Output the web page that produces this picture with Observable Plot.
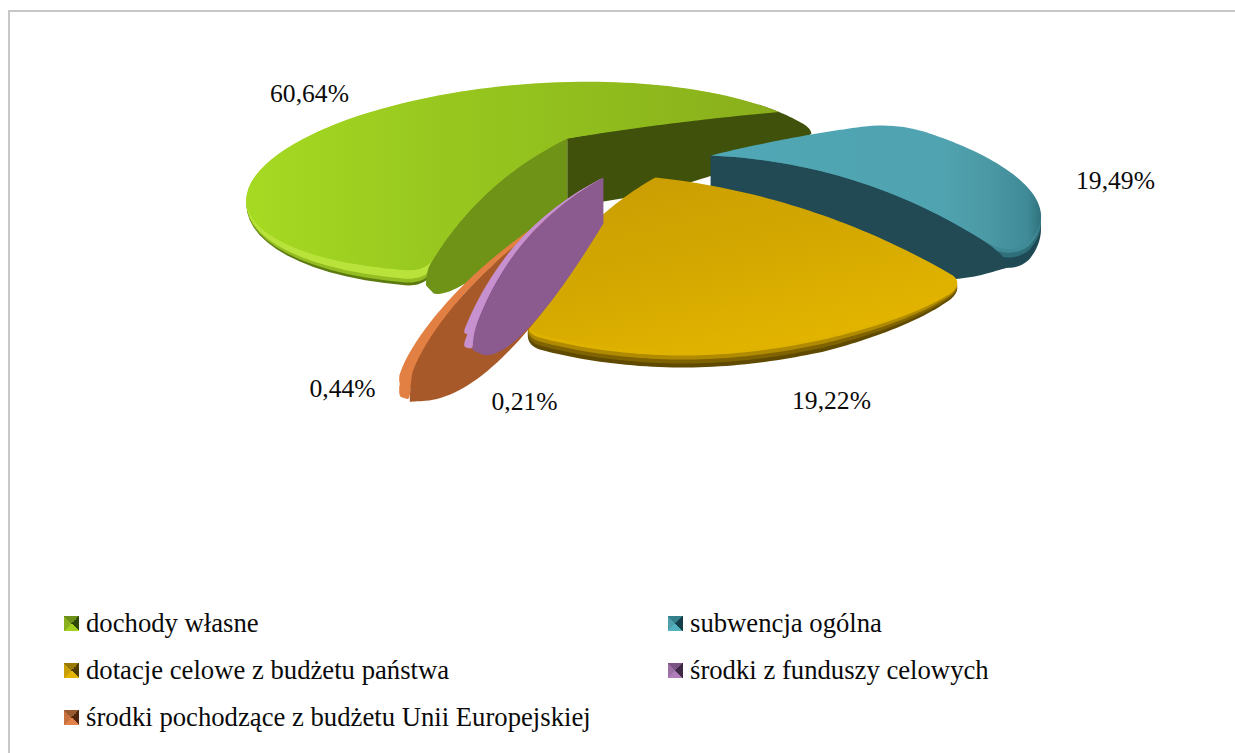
<!DOCTYPE html>
<html><head><meta charset="utf-8">
<script src="https://cdn.jsdelivr.net/npm/d3@7"></script>
<script src="https://cdn.jsdelivr.net/npm/@observablehq/plot@0.6"></script>
<style>
html,body{margin:0;padding:0;background:#fff;overflow:hidden}
#page{position:relative;width:1235px;height:753px;font-family:"Liberation Serif",serif;color:#0a0a0a}
#frame{position:absolute;left:8px;top:10px;right:0;bottom:0;border-left:2px solid #c8c8c8;border-top:2px solid #c8c8c8;pointer-events:none}
#chart svg{display:block}
#legend{display:grid;grid-template-columns:604px 1fr;grid-auto-rows:47px;padding-left:64px;font-size:26.7px;align-items:center}
.item{display:flex;align-items:center;white-space:nowrap}
.sw{width:15px;height:15px;margin-right:7px;flex:none;filter:blur(.4px)}
</style></head><body>
<div id="page"><div id="frame"></div><div id="chart"></div><div id="legend"></div></div>
<script>
const categories=["dochody własne","subwencja ogólna","dotacje celowe z budżetu państwa","środki z funduszy celowych","środki pochodzące z budżetu Unii Europejskiej"];
const shares=[60.64,19.49,19.22,0.21,0.44];
const W=1235,H=600;

// perspective view of the pie's plane
const firstAngle=195, cx=630, cy=155, gx=280, gz=99, persp=0.5;
const project=(x,z)=>{const w=1-persp*z;return [cx+gx*x/w,cy+gz*z/w];};
const rad=d=>d*Math.PI/180;

// drawing parameters per slice (same order as categories)
const view=[
 {explode:.31, expAdj:3,   sAdj:-2,  eAdj:14.7,R:[.95,1.05,1.03,1,1,1,1],bowS:15,bowE:2, pwS:1, cS:12,cE:0},
 {explode:.286,expAdj:1.6, sAdj:11.5,eAdj:14.8,R:[.93,.98,.98,.91],      bowS:3, bowE:23,pwS:1, cS:30,cE:25},
 {explode:.215,expAdj:0,   sAdj:8.5, eAdj:8.4, R:[.87,.8,.8,.79],        bowS:18,bowE:18,pwS:1, cS:15,cE:15},
 {explode:.218,expAdj:10.5,sAdj:2.85,eAdj:3.6, R:[.78,.78],              bowS:20,bowE:20,pwS:1, cS:3, cE:3},
 {explode:.279,expAdj:5.3, sAdj:4.85,eAdj:4.8, R:[.86,.86],              bowS:25,bowE:25,pwS:.7,cS:3, cE:3}
];
let acc=firstAngle;
const slices=shares.map((v,i)=>{
  const a0=acc,a1=acc+v*3.6;acc=a1;
  const p=view[i],mid=(a0+a1)/2+p.expAdj;
  const c=[p.explode*Math.sin(rad(mid)),-p.explode*Math.cos(rad(mid))];
  const s=a0+p.sAdj,e=a1+p.eAdj,Rf=d3.interpolateBasis(p.R);
  const at=(deg,r)=>project(c[0]+r*Math.sin(rad(deg)),c[1]-r*Math.cos(rad(deg)));
  const rim=d3.range(81).map(k=>at(s+(e-s)*k/80,Rf(k/80)));
  return {apex:project(c[0],c[1]),rim,p,at};
});
const shapeF=pw=>{const peak=(1/(1+pw))*Math.pow(pw/(1+pw),pw);return t=>t*Math.pow(1-t,pw)/peak;};
function radial(A,P,bow,pw=1){
  const dx=P[0]-A[0],dy=P[1]-A[1],L=Math.hypot(dx,dy),f=shapeF(pw);
  let nx=dy/L,ny=-dx/L; if(ny>0){nx=-nx;ny=-ny;}
  return d3.range(41).map(k=>{const t=k/40,b=bow*f(t);return [A[0]+dx*t+nx*b,A[1]+dy*t+ny*b];});
}
function lenOf(e){let l=0;for(let i=1;i<e.length;i++)l+=Math.hypot(e[i][0]-e[i-1][0],e[i][1]-e[i-1][1]);return l;}
function trim(e,r0,r1){
  const L=lenOf(e);r0=Math.min(r0,L*.45);r1=Math.min(r1,L*.45);
  const out=[];let l=0;
  for(let i=0;i<e.length;i++){ if(i)l+=Math.hypot(e[i][0]-e[i-1][0],e[i][1]-e[i-1][1]);
    if(l>=r0&&l<=L-r1)out.push(e[i]);}
  return out.length?out:[e[Math.floor(e.length/2)]];
}
function join(edges,radii){
  const n=edges.length,tr=edges.map((e,i)=>trim(e,radii[(i-1+n)%n],radii[i])),out=[];
  tr.forEach((t,i)=>{out.push(...t);
    const c=edges[i][edges[i].length-1],a=t[t.length-1],b=tr[(i+1)%n][0];
    for(let k=1;k<12;k++){const u=k/12,v=1-u;out.push([v*v*a[0]+2*u*v*c[0]+u*u*b[0],v*v*a[1]+2*u*v*c[1]+u*u*b[1]]);}
  });
  return out;
}
function topFace(s){
  const P0=s.rim[0],P1=s.rim[s.rim.length-1],p=s.p;
  return join([radial(s.apex,P0,p.bowS,p.pwS),s.rim,radial(s.apex,P1,p.bowE,p.pwS).reverse()],[p.cS,p.cE,0]);
}
function wall(A,P,bow,pwTop,d0,d1,b,pw,rTip){
  const top=radial(A,P,bow,pwTop),f=shapeF(pw);
  const prof=t=>d0+(d1-d0)*t+b*f(t);
  const bot=top.map((q,k)=>[q[0],q[1]+prof(k/40)]).reverse();
  return join([top,[top[40],bot[0]],bot,[bot[40],top[0]]],[rTip,rTip,0,0]);
}
// the far radial wall of the first slice: its upper side follows the rim to the corner
function rimWall(s,deg0,deg1,bow,d0,d1,b,rTip){
  const A=s.apex,P=s.at(deg1,1),f=shapeF(1);
  const top=radial(A,P,bow,1);
  const bot=top.map((q,k)=>[q[0],q[1]+d0+(d1-d0)*k/40+b*f(k/40)]).reverse();
  const arc=d3.range(31).map(k=>s.at(deg0+(deg1-deg0)*k/30,1));
  return join([[A,arc[0]],arc,[arc[30],bot[0]],bot,[bot[40],A]],[0,rTip,rTip,0,0]);
}
// rim band: the top face pushed down, further where it is nearer the viewer
const band=(poly,dy,y0,y1,lo)=>poly.map(q=>[q[0],q[1]+dy*Math.max(lo,Math.min(1,(q[1]-y0)/(y1-y0)))]);
const start=s=>s.rim[0];
const [G,T,Y,V,O]=slices;
const gTop=topFace(G),tTop=topFace(T),yTop=topFace(Y),vTop=topFace(V),oTop=topFace(O);

const layers=[
 [band(gTop,16,180,275,.1),"#5d7a10"],[band(gTop,13,180,275,.08),"#93bd22"],[band(gTop,9,180,275,.05),"#b9e33a"],
 [rimWall(G,60,83,15,67,5,28,8),"#3f510b"],
 [gTop,"url(#gGreen)"],
 [wall(G.apex,start(G),G.p.bowS,1,67,14,36,.7,10),"#6f9317"],
 [band(tTop,20,150,255,.1),"#1f4a55"],[band(tTop,9,150,255,.2),"#2f6f7a"],[band(tTop,4,150,255,.3),"#3f8a96"],
 [wall(T.apex,T.at(138.3,.91),T.p.bowE,1,33,10,65,1,25),"#214a55"],
 [tTop,"url(#gTeal)"],
 [band(yTop,15,250,335,.3),"#5f4a00"],[band(yTop,11,250,335,.3),"#7f6300"],[band(yTop,7,250,335,.3),"#b08a00"],[band(yTop,3,250,335,.3),"#dfb200"],
 [yTop,"url(#gGold)"],
 [band(oTop,12,300,385,0),"#e27f42"],
 [wall(O.apex,start(O),O.p.bowS,O.p.pwS,40,14,74,1,16),"#a8592a"],
 [oTop,"#e27f42"],
 [band(vTop,14,260,335,0),"#c790cf"],
 [wall(V.apex,start(V),V.p.bowS,1,46,15,60,1,12),"#8b5a8f"],
 [vTop,"#c790cf"]
];

const pct=d3.format(".2f");
const labelAt=[[309,93],[1115,180],[831,400],[524,401],[342,388]];
const labels=shares.map((v,i)=>({t:pct(v).replace(".",",")+"%",x:labelAt[i][0],y:labelAt[i][1]}));

function defs(){
  const d=d3.create("svg:defs");
  const g=(id,x2,y2,stops)=>{const l=d.append("linearGradient").attr("id",id).attr("x1",0).attr("y1",0).attr("x2",x2).attr("y2",y2);
    stops.forEach(([o,c])=>l.append("stop").attr("offset",o).attr("stop-color",c));};
  g("gGreen",1,0,[[0,"#a6da22"],[.35,"#98c81f"],[.7,"#8fbb1d"],[1,"#8aae1b"]]);
  g("gTeal",1,0,[[0,"#50a7b5"],[.7,"#50a3b0"],[.85,"#4a98a4"],[.96,"#3f8a96"],[1,"#2f727d"]]);
  g("gGold",.6,1,[[0,"#c89c03"],[.55,"#d4a800"],[1,"#e3b500"]]);
  return d.node();
}

const marks=[defs,...layers.map(([pts,fill])=>Plot.line(pts,{x:d=>d[0],y:d=>d[1],fill,stroke:"none",imageFilter:"blur(0.5px)"})),
 Plot.text(labels,{x:"x",y:"y",text:"t",fontSize:25.6,fontFamily:"Liberation Serif",fill:"#0a0a0a"})];

document.getElementById("chart").append(Plot.plot({
  width:W,height:H,margin:0,
  x:{domain:[0,W],range:[0,W],axis:null},
  y:{domain:[0,H],range:[0,H],axis:null},
  style:{background:"transparent",overflow:"visible"},
  marks
}));

const swatch=[["#2f4a08","#a4d020","#8ab01e","#6b8f18"],["#143f48","#54b2c0","#4f9fac","#33808c"],["#4e3c00","#e4b500","#c9a008","#9a7a06"],["#3f2a45","#b07dbb","#9c70a5","#7a5484"],["#502510","#e2824a","#c87240","#9a5a30"]];
const leg=document.getElementById("legend");
categories.forEach((c,i)=>{
  const it=document.createElement("div");it.className="item";
  const s=document.createElement("span");s.className="sw";
  const q=swatch[i];
  s.style.background=`conic-gradient(from 45deg,${q[0]} 0 25%,${q[1]} 0 50%,${q[2]} 0 75%,${q[3]} 0)`;
  it.append(s,document.createTextNode(c));leg.append(it);
});
</script></body></html>
